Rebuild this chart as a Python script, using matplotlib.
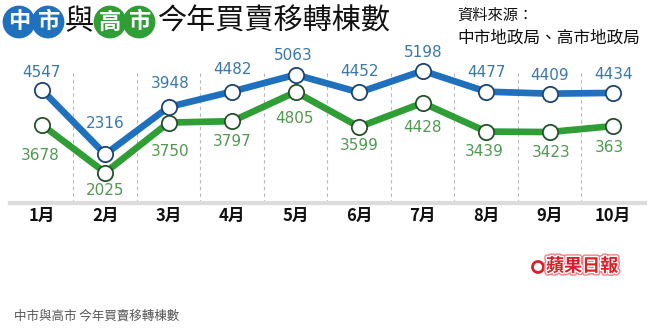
import matplotlib
matplotlib.use('Agg')
import matplotlib.pyplot as plt
from matplotlib import patheffects as pe
from matplotlib.patches import Circle

plt.rcParams['font.family'] = ['Noto Sans CJK TC', 'DejaVu Sans']

#data: monthly housing transfers, Taichung vs Kaohsiung
#---------------------------------
months = ['1月', '2月', '3月', '4月', '5月', '6月', '7月', '8月', '9月', '10月']
taichung = [4547, 2316, 3948, 4482, 5063, 4452, 5198, 4477, 4409, 4434]
kaohsiung = [3678, 2025, 3750, 3797, 4805, 3599, 4428, 3439, 3423, 3630]

tc_labels = [str(v) for v in taichung]
ks_labels = [str(v) for v in kaohsiung]
ks_labels[-1] = ks_labels[-1][:3]  # printed as 363

#label offsets in pixels (dx, dy) from each marker
tc_off = [(0, 17), (0, 31), (1, 24), (0, 22), (-2, 19), (0, 21), (0, 18), (0, 19), (0, 18), (0, 18)]
ks_off = [(-2, -31), (0, -18), (1, -29), (0, -20), (-1, -27), (0, -19), (0, -25), (-2, -20), (1, -20), (-4, -21)]

blue = '#1f70bd'
green = '#2f9e35'
W, H = 651, 334

fig = plt.figure(figsize=(W/100, H/100), dpi=100)
ax = fig.add_axes([9.95/W, 1-202.7/H, 635/W, 142.7/H])
ax2 = ax.twinx()
x = list(range(len(months)))

ax.set_xlim(-0.5, 9.5)
ax.set_ylim(648, 5569)
ax2.set_ylim(986, 5907)

#separators between months
for b in range(len(months)-1):
    ax.axvline(b+0.5, ymin=0, ymax=0.93, color='#b8b8b8', ls=(0, (3, 3)), lw=0.8, zorder=0)

ax.plot(x, taichung, color=blue, lw=4.8, solid_capstyle='round',
        marker='o', ms=11, mfc='white', mec='#1c4470', mew=1.3, zorder=3)
ax2.plot(x, kaohsiung, color=green, lw=4.8, solid_capstyle='round',
         marker='o', ms=11, mfc='white', mec='#24502c', mew=1.3, zorder=3)

for i in x:
    ax.annotate(tc_labels[i], (i, taichung[i]), xytext=tc_off[i], textcoords='offset pixels',
                ha='center', va='center', fontsize=11, color='#3a78aa', family='DejaVu Sans')
    ax2.annotate(ks_labels[i], (i, kaohsiung[i]), xytext=ks_off[i], textcoords='offset pixels',
                 ha='center', va='center', fontsize=11, color='#4f9a50', family='DejaVu Sans')

for a in (ax, ax2):
    for s in a.spines.values():
        s.set_visible(False)
    a.set_yticks([])
ax.spines['bottom'].set_visible(True)
ax.spines['bottom'].set_color('#dcdcdc')
ax.spines['bottom'].set_linewidth(3)
ax.set_xticks(x, months)
ax.tick_params(axis='x', length=0, pad=3)
for t in ax.get_xticklabels():
    t.set_fontsize(12)
    t.set_fontweight('bold')
    t.set_color('#111111')

#title with circled city names
badges = [('中', 19, blue), ('市', 48, blue), ('高', 110, green), ('市', 139, green)]
for ch, cx, col in badges:
    fig.text(cx/W, 1-22/H, ch, ha='center', va='center', fontsize=16, fontweight='bold', color='white',
             bbox=dict(boxstyle='circle,pad=0.22', fc=col, ec='none'))
fig.text(79/W, 1-22/H, '與', ha='center', va='center', fontsize=21, color='#111111')
fig.text(157/W, 1-22/H, '今年買賣移轉棟數', ha='left', va='center', fontsize=21, color='#111111')

fig.text(457/W, 1-15/H, '資料來源：', ha='left', va='center', fontsize=11, color='#111111')
fig.text(457/W, 1-38/H, '中市地政局、高市地政局', ha='left', va='center', fontsize=12, color='#111111')

#newspaper logo
logo_fx = [pe.Stroke(linewidth=4, foreground='#f08080'), pe.Stroke(linewidth=2, foreground='white'), pe.Normal()]
fig.text(546/W, 1-266/H, '蘋果日報', ha='left', va='center', fontsize=13, fontweight='bold',
         color='#d8202a', path_effects=logo_fx)
apple = Circle((538, H-267), 5.5, transform=None, fill=False, ec='#d8202a', lw=2)
fig.add_artist(apple)

fig.text(14/W, 1-316/H, '中市與高市 今年買賣移轉棟數', ha='left', va='center', fontsize=9, color='#555555')

fig.savefig('out.png', dpi=100)
